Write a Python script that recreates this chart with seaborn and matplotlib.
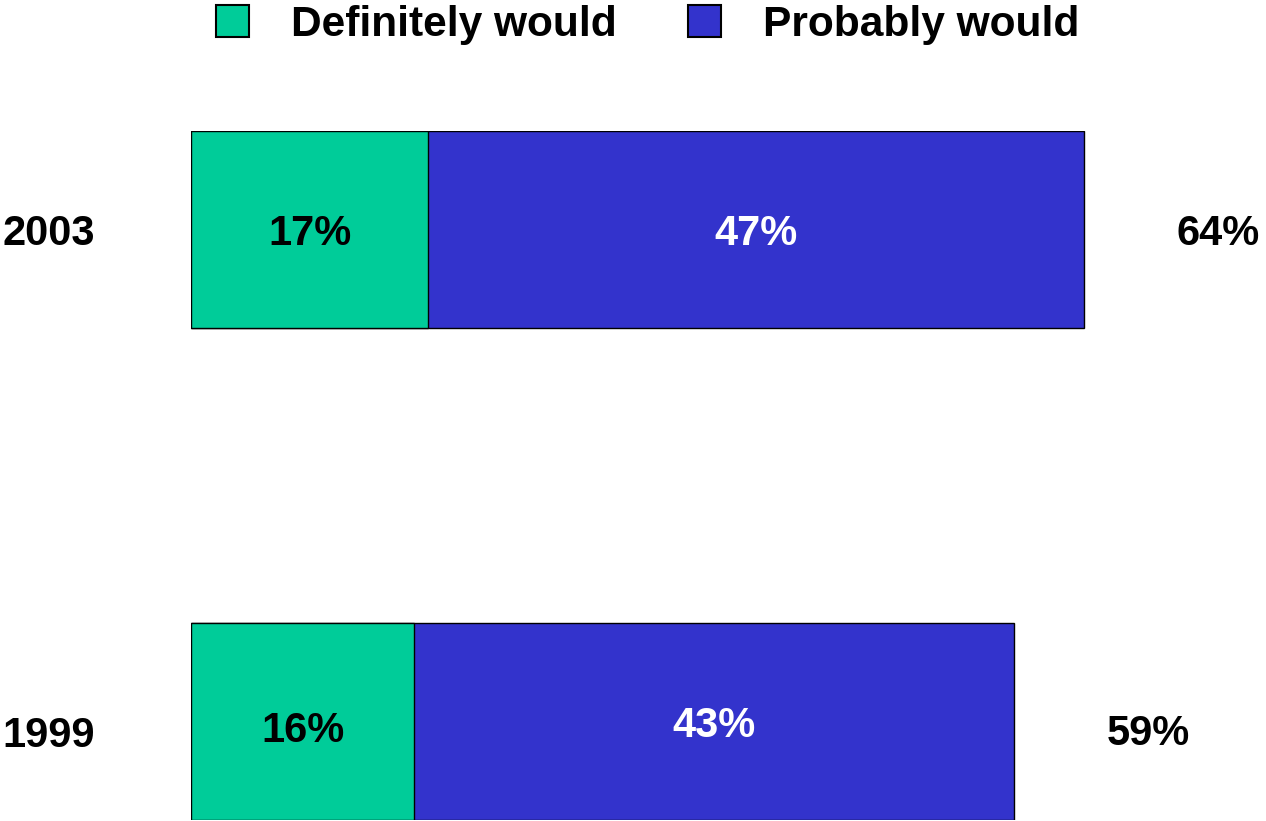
import matplotlib
matplotlib.use("Agg")
import matplotlib.pyplot as plt
import seaborn as sns
import pandas as pd
from matplotlib.patches import Patch

years = ["2003", "1999"]
definitely = [17, 16]
probably = [47, 43]
series_names = ["Definitely would", "Probably would"]

green = "#00CC99"
blue = "#3333CC"

sns.set_style("white")
plt.rcParams["font.family"] = ["Liberation Sans", "DejaVu Sans"]
plt.rcParams["font.weight"] = "bold"
plt.rcParams["text.color"] = "black"

totals = [d + p for d, p in zip(definitely, probably)]
df = pd.DataFrame({"year": years, "definitely": definitely, "total": totals})

fig = plt.figure(figsize=(12.66, 8.21), dpi=100)
ax = fig.add_axes([191 / 1266, 1 / 821, (1266 - 191) / 1266, 689 / 821])

sns.barplot(data=df, x="total", y="year", order=years, color=blue, orient="h",
            width=0.4, edgecolor="black", linewidth=1, saturation=1, ax=ax)
sns.barplot(data=df, x="definitely", y="year", order=years, color=green, orient="h",
            width=0.4, edgecolor="black", linewidth=1, saturation=1, ax=ax)

ax.set_xlim(0, 77.06)
ax.set_ylim(1.2, -0.2)
ax.set_xlabel("")
ax.set_ylabel("")
ax.set_xticks([])
ax.set_yticks([])
for s in ax.spines.values():
    s.set_visible(False)

fs = 30
px = 1 / 492.0  # one pixel in category units
# baseline offsets (pixels below bar centre) per row: year, inner1, inner2, total
offs = [(15.5, 15.5, 15.5, 15.5), (25.5, 20.5, 15.5, 23.5)]
for i, (y, d, p, t) in enumerate(zip(years, definitely, probably, totals)):
    o = offs[i]
    ax.text(-96 / 1075, i + o[0] * px, y, ha="right", va="baseline", fontsize=fs,
            fontweight="bold", color="black", transform=ax.get_yaxis_transform())
    ax.text(d / 2, i + o[1] * px, f"{d}%", ha="center", va="baseline", fontsize=fs,
            fontweight="bold", color="black")
    ax.text(d + p / 2, i + o[2] * px, f"{p}%", ha="center", va="baseline", fontsize=fs,
            fontweight="bold", color="white")
    ax.text(t + 6.67, i + o[3] * px, f"{t}%", ha="left", va="baseline", fontsize=fs,
            fontweight="bold", color="black")

handles = [Patch(facecolor=green, edgecolor="black", linewidth=1.5),
           Patch(facecolor=blue, edgecolor="black", linewidth=1.5)]
leg = fig.legend(handles, series_names, loc="center", bbox_to_anchor=(648 / 1266, 1 - 25 / 821),
                 ncol=2, frameon=False, prop={"size": 30.6, "weight": "bold"},
                 handlelength=0.76, handleheight=0.76, handletextpad=1.0,
                 columnspacing=1.68, borderpad=0, borderaxespad=0, labelcolor="black")

fig.savefig("out.png", dpi=100)
